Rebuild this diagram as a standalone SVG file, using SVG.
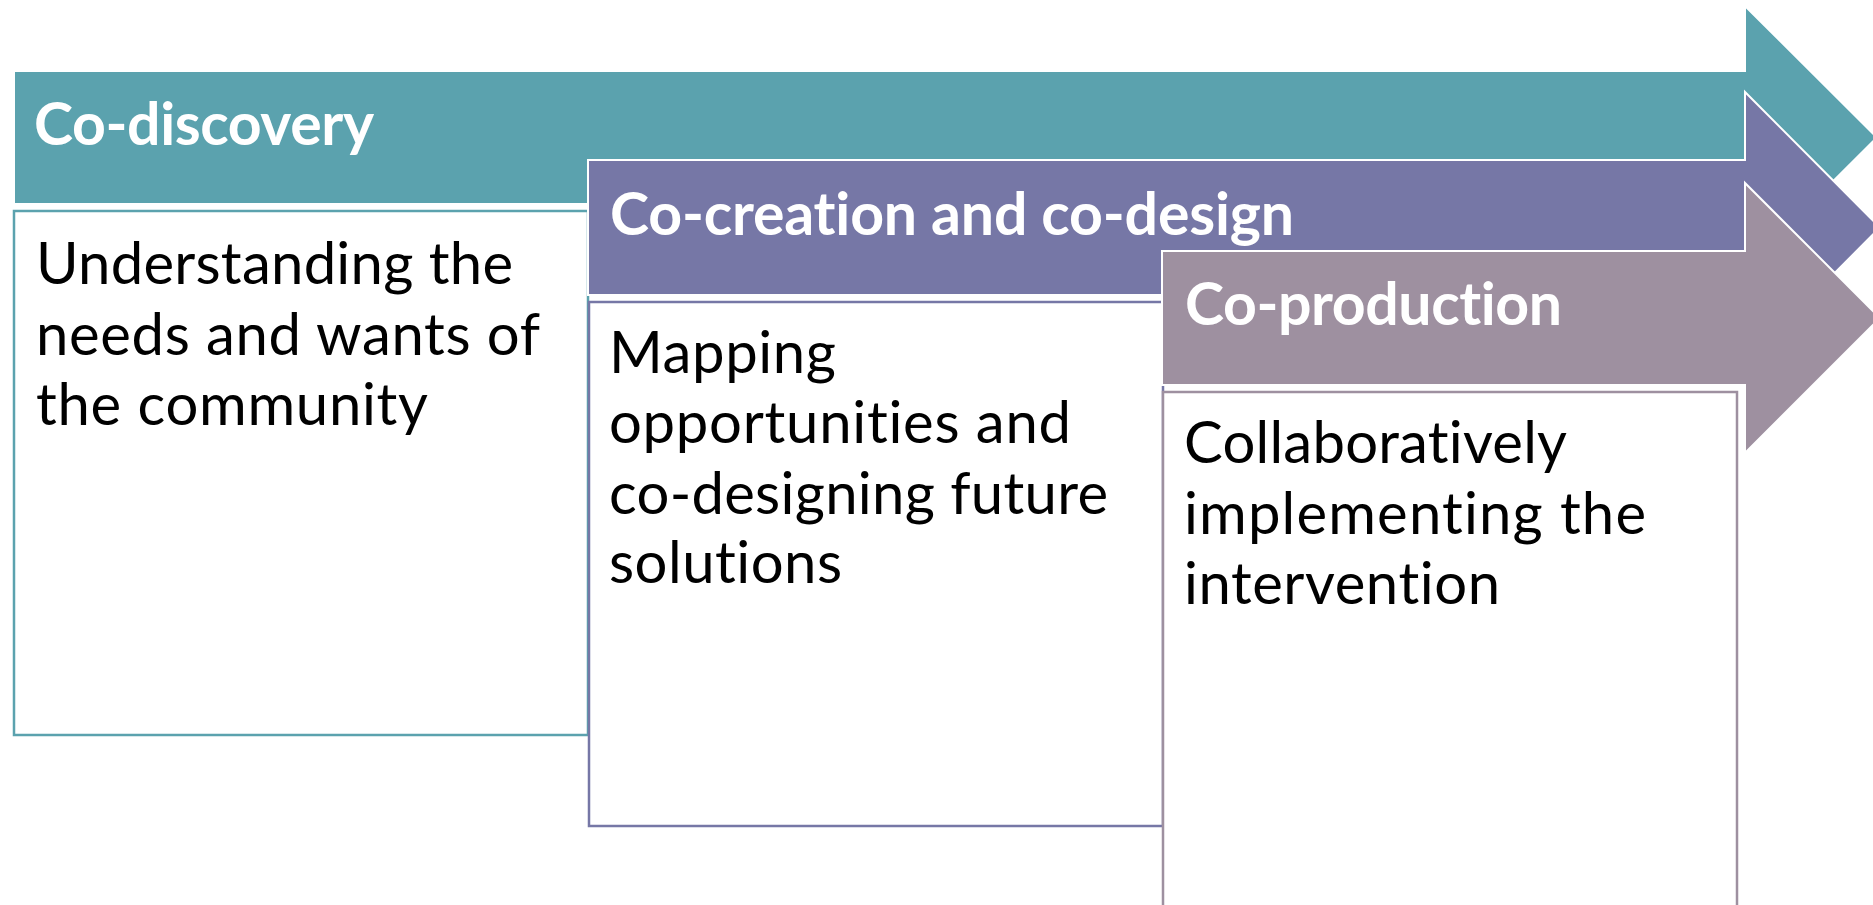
<svg xmlns="http://www.w3.org/2000/svg" width="1873" height="905" viewBox="0 0 1873 905">
  <style>
    text { font-variant-ligatures: none; font-feature-settings: "liga" 0, "clig" 0; }
    .title { font-family: Lato, "Open Sans", "Liberation Sans", sans-serif; font-weight: 700; font-size: 59px; fill: #ffffff; }
    .body { font-family: Lato, "Open Sans", "Liberation Sans", sans-serif; font-weight: 400; font-size: 58px; fill: #000000; }
    .arrow { stroke: #ffffff; stroke-width: 2; }
    .panel { fill: #ffffff; stroke-width: 2.5; }
  </style>
  <rect width="1873" height="905" fill="#ffffff"/>

  <!-- Stage 1: Co-discovery -->
  <g id="co-discovery">
    <path class="arrow" fill="#5ba2ae" d="M14,71 H1745 V6 L1877,137.5 L1745,269 V204 H14 Z"/>
    <rect class="panel" stroke="#5ba2ae" x="14" y="211" width="574" height="524"/>
    <text class="title" x="34" y="145" textLength="340">Co-discovery</text>
    <text class="body" x="36" y="284" textLength="477">Understanding the</text>
    <text class="body" x="36" y="355" textLength="504">needs and wants of</text>
    <text class="body" x="36" y="425" textLength="392">the community</text>
  </g>

  <!-- Stage 2: Co-creation and co-design -->
  <g id="co-creation">
    <path class="arrow" fill="#7677a6" d="M588,160 H1745 V92 L1880,227.5 L1745,363 V295 H588 Z"/>
    <rect class="panel" stroke="#7677a6" x="589" y="302" width="574" height="524"/>
    <text class="title" x="610" y="235" textLength="684">Co-creation and co-design</text>
    <text class="body" x="609" y="373" textLength="227">Mapping</text>
    <text class="body" x="609" y="443" textLength="462">opportunities and</text>
    <text class="body" x="609" y="514" textLength="499">co-designing future</text>
    <text class="body" x="609" y="583" textLength="233">solutions</text>
  </g>

  <!-- Stage 3: Co-production -->
  <g id="co-production">
    <path class="arrow" fill="#9e90a0" d="M1162,251 H1745 V183 L1880,318 L1745,453 V385 H1162 Z"/>
    <rect class="panel" stroke="#9e90a0" x="1163" y="392" width="574" height="540"/>
    <text class="title" x="1185" y="325" textLength="377">Co-production</text>
    <text class="body" x="1184" y="463" textLength="383">Collaboratively</text>
    <text class="body" x="1184" y="534" textLength="462">implementing the</text>
    <text class="body" x="1184" y="604" textLength="316">intervention</text>
  </g>

  <g id="connectors"/>
</svg>
